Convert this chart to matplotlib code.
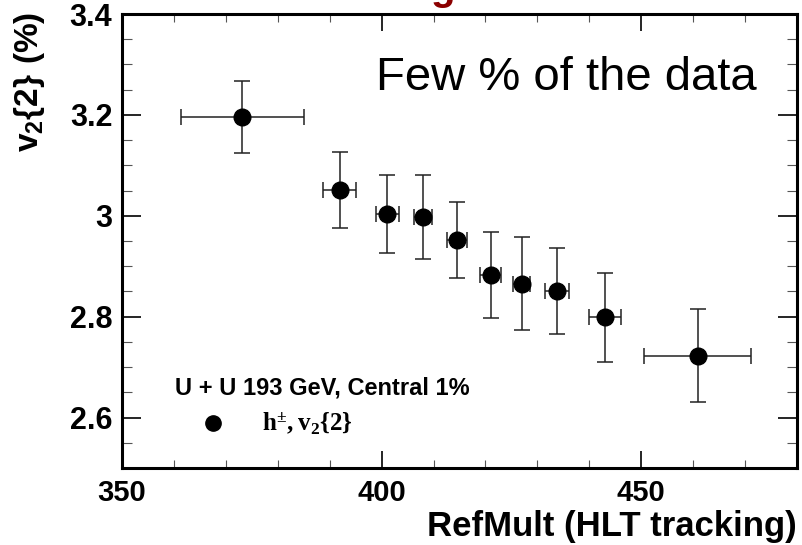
import numpy as np
import matplotlib.pyplot as plt
from matplotlib.ticker import MultipleLocator

plt.rcParams['font.family'] = ['Liberation Sans', 'DejaVu Sans']
plt.rcParams['mathtext.fontset'] = 'custom'
plt.rcParams['mathtext.rm'] = 'Liberation Serif:bold'
plt.rcParams['mathtext.sf'] = 'Liberation Sans:bold'

# v2{2} vs RefMult
refmult = [373.2, 391.9, 401.1, 408.0, 414.5, 421.0, 427.0, 433.8, 443.1, 460.9]
refmult_err = [11.9, 3.2, 2.25, 1.67, 2.0, 2.0, 1.67, 2.28, 3.08, 10.3]
v2 = [3.196, 3.051, 3.004, 2.998, 2.952, 2.883, 2.865, 2.851, 2.799, 2.723]
v2_err = [0.071, 0.076, 0.077, 0.083, 0.076, 0.085, 0.092, 0.086, 0.088, 0.092]

fig = plt.figure(figsize=(8.03, 5.45), dpi=100)
ax = fig.add_axes([122/803, 1-468/545, 675/803, 454/545])

ax.errorbar(refmult, v2, xerr=refmult_err, yerr=v2_err, fmt='o', color='black',
            ecolor='#222222', elinewidth=1.1, capsize=5.5, capthick=1.1, markersize=12)

ax.set_xlim(350, 480)
ax.set_ylim(2.5, 3.4)
ax.xaxis.set_major_locator(MultipleLocator(50))
ax.xaxis.set_minor_locator(MultipleLocator(10))
ax.yaxis.set_minor_locator(MultipleLocator(0.05))
ax.set_yticks([2.6, 2.8, 3.0, 3.2, 3.4])
ax.set_yticklabels(['2.6', '2.8', '3', '3.2', '3.4'])

ax.tick_params(which='both', direction='in', top=True, right=True)
ax.tick_params(axis='x', which='major', length=12, width=1.2, pad=8, labelsize=21)
ax.tick_params(axis='x', which='minor', length=5.5, width=0.8, color='#555555')
ax.tick_params(axis='y', which='major', length=13.5, width=1.2, pad=7, labelsize=22)
ax.tick_params(axis='y', which='minor', length=7, width=0.8, color='#555555')
for lab in ax.get_xticklabels() + ax.get_yticklabels():
    lab.set_fontweight('bold')
for s in ax.spines.values():
    s.set_linewidth(2.2)

ax.set_xlabel('RefMult (HLT tracking)', fontsize=25, fontweight='bold', loc='right', labelpad=2)
fig.text(30/803, 1-12/545, r'$\mathsf{v_{2}\{2\}\ (\%)}$', rotation=90, ha='center', va='top', fontsize=24)

fig.text(376/803, 1-78/545, 'Few % of the data', fontsize=34, va='center', ha='left')

ax.text(360.2, 2.659, 'U + U 193 GeV, Central 1%', fontsize=17, fontweight='bold', va='center')
ax.plot([367.5], [2.589], 'o', color='black', markersize=11)
ax.text(377, 2.589, r'$\mathrm{h^{\pm}, v_{2}\{2\}}$', fontsize=18, va='center')

# bottom of the slide title, cut off above
fig.text(443/803, 1.0, 'g', va='baseline', ha='center', color='#8b0000', fontsize=29, fontweight='bold')

fig.savefig('out.png', dpi=100)
